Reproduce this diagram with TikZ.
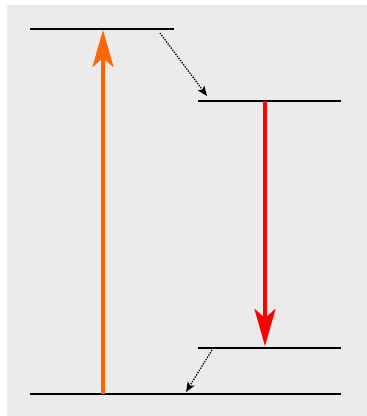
\documentclass[tikz,border=0pt]{standalone}
\usetikzlibrary{arrows.meta}
\definecolor{bggrey}{HTML}{EBEBEB}
\definecolor{exc}{HTML}{FF6600}
\begin{document}
\begin{tikzpicture}[x=1pt,y=-1pt,
  level/.style={line width=1.6pt,black},
  bigarrow/.style={line width=4pt,-{Stealth[length=37pt,width=21pt,inset=9pt]}},
  relax/.style={line width=1.3pt,dash pattern=on 1.3pt off 1.3pt,black,-{Stealth[length=10pt,width=8pt,inset=2.5pt]}}]
\useasboundingbox (0,0) rectangle (367,416);
\fill[bggrey] (7,5) rectangle (367,416);
% levels
\coordinate (s2l) at (30,29);  \coordinate (s2r) at (174,29);
\coordinate (s1l) at (198,101); \coordinate (s1r) at (341,101);
\coordinate (g1l) at (198,348); \coordinate (g1r) at (341,348);
\coordinate (g0l) at (30,394);  \coordinate (g0r) at (341,394);
\draw[level] (s2l) -- (s2r);
\draw[level] (s1l) -- (s1r);
\draw[level] (g1l) -- (g1r);
\draw[level] (g0l) -- (g0r);
% absorption
\coordinate (absS) at (103,394); \coordinate (absE) at (103,30);
\draw[bigarrow,exc] (absS) -- (absE);
% emission
\coordinate (emS) at (265,101); \coordinate (emE) at (265,346);
\draw[bigarrow,red] (emS) -- (emE);
% relaxations
\coordinate (r1s) at (160,33); \coordinate (r1e) at (207,96);
\draw[relax] (r1s) -- (r1e);
\coordinate (r2s) at (212,350); \coordinate (r2e) at (186,392);
\draw[relax] (r2s) -- (r2e);
\end{tikzpicture}
\end{document}
